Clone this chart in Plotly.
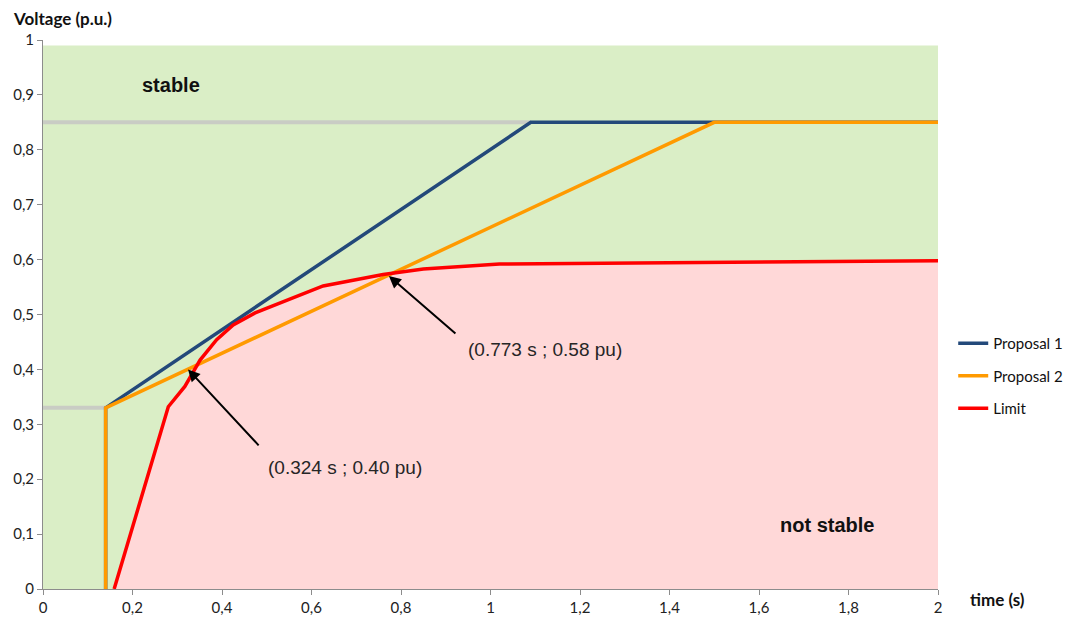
import plotly.graph_objects as go

# data
p1_t = [0.14, 0.14, 1.09, 2.0]
p1_v = [0.0, 0.33, 0.85, 0.85]
p2_t = [0.14, 0.14, 1.5, 2.0]
p2_v = [0.0, 0.33, 0.85, 0.85]
lim_t = [0.159, 0.28, 0.317, 0.351, 0.388, 0.425, 0.474, 0.626, 0.76, 0.85, 1.02, 2.0]
lim_v = [0.0, 0.332, 0.369, 0.417, 0.454, 0.481, 0.503, 0.552, 0.573, 0.583, 0.592, 0.598]
guide_hi_t = [0.0, 1.09]
guide_hi_v = [0.85, 0.85]
guide_lo_t = [0.0, 0.14]
guide_lo_v = [0.33, 0.33]
x_ticks = [0, 0.2, 0.4, 0.6, 0.8, 1.0, 1.2, 1.4, 1.6, 1.8, 2.0]
y_ticks = [0, 0.1, 0.2, 0.3, 0.4, 0.5, 0.6, 0.7, 0.8, 0.9, 1.0]

fig = go.Figure()

# green "stable" background
fig.add_shape(type="rect", xref="x", yref="y", x0=0, x1=2, y0=0, y1=0.99,
              fillcolor="#DAEEC6", line=dict(width=0), layer="below")

# pink area under the limit
fig.add_trace(go.Scatter(x=lim_t, y=lim_v, mode="lines", fill="tozeroy",
                         fillcolor="#FFD8D8", line=dict(width=0),
                         showlegend=False, hoverinfo="skip"))

# gray guide lines
for gx, gy in [(guide_hi_t, guide_hi_v), (guide_lo_t, guide_lo_v)]:
    fig.add_trace(go.Scatter(x=gx, y=gy, mode="lines",
                             line=dict(color="#C9CCC4", width=4),
                             showlegend=False, hoverinfo="skip"))

fig.add_trace(go.Scatter(x=p1_t, y=p1_v, mode="lines", name="Proposal 1",
                         legendgroup="a", line=dict(color="#23497A", width=3.5)))
fig.add_trace(go.Scatter(x=p2_t, y=p2_v, mode="lines", name="Proposal 2",
                         legendgroup="b", line=dict(color="#FF9A00", width=3.5)))
fig.add_trace(go.Scatter(x=lim_t, y=lim_v, mode="lines", name="Limit",
                         legendgroup="c", line=dict(color="#FF0000", width=3.5)))

# arrows
fig.add_annotation(x=0.324, y=0.40, ax=0.485, ay=0.259, xref="x", yref="y",
                   axref="x", ayref="y", text="", showarrow=True,
                   arrowhead=2, arrowsize=1.2, arrowwidth=2, arrowcolor="black")
fig.add_annotation(x=0.773, y=0.57, ax=0.925, ay=0.463, xref="x", yref="y",
                   axref="x", ayref="y", text="", showarrow=True,
                   arrowhead=2, arrowsize=1.2, arrowwidth=2, arrowcolor="black")

txt_font = dict(family="Liberation Sans, Arial", size=19, color="#262626")
fig.add_annotation(x=0.674, y=0.222, xref="x", yref="y", text="(0.324 s ; 0.40 pu)",
                   showarrow=False, font=txt_font)
fig.add_annotation(x=1.122, y=0.436, xref="x", yref="y", text="(0.773 s ; 0.58 pu)",
                   showarrow=False, font=txt_font)

lbl_font = dict(family="Liberation Sans, Arial", size=20, color="#111111")
fig.add_annotation(x=0.286, y=0.918, xref="x", yref="y", text="<b>stable</b>",
                   showarrow=False, font=lbl_font)
fig.add_annotation(x=1.752, y=0.117, xref="x", yref="y", text="<b>not stable</b>",
                   showarrow=False, font=lbl_font)

# axis titles
ttl_font = dict(family="Lato, Liberation Sans", size=17, color="#111111")
fig.add_annotation(xref="paper", yref="paper", x=-0.036, y=1.04, xanchor="left",
                   yanchor="middle", text="<b>Voltage (p.u.)</b>", showarrow=False,
                   font=ttl_font)
fig.add_annotation(xref="paper", yref="paper", x=1.034, y=-0.02, xanchor="left",
                   yanchor="middle", text="<b>time (s)</b>", showarrow=False,
                   font=ttl_font)

tick_font = dict(family="Lato, Liberation Sans", size=15, color="#222222")
fig.update_xaxes(range=[0, 2], tickvals=x_ticks, tickformat=".1~f",
                 showgrid=False, zeroline=False, showline=True, automargin=False,
                 linecolor="#8C8C8C", linewidth=1, ticks="outside", ticklen=5,
                 tickcolor="#8C8C8C", tickfont=tick_font)
fig.update_yaxes(range=[0, 1], tickvals=y_ticks, tickformat=".1~f",
                 showgrid=False, zeroline=False, showline=True, automargin=False,
                 linecolor="#8C8C8C", linewidth=1, ticks="outside", ticklen=5,
                 tickcolor="#8C8C8C", tickfont=tick_font)

fig.update_layout(
    width=1077, height=620,
    margin=dict(l=35, r=147, t=32, b=39),
    plot_bgcolor="white", paper_bgcolor="white",
    separators=",.",
    legend=dict(x=1.017, y=0.388, xanchor="left", yanchor="middle",
                tracegroupgap=10, itemwidth=30,
                font=dict(family="Lato, Liberation Sans", size=15, color="#111111")),
)

fig.write_html("out.html")
